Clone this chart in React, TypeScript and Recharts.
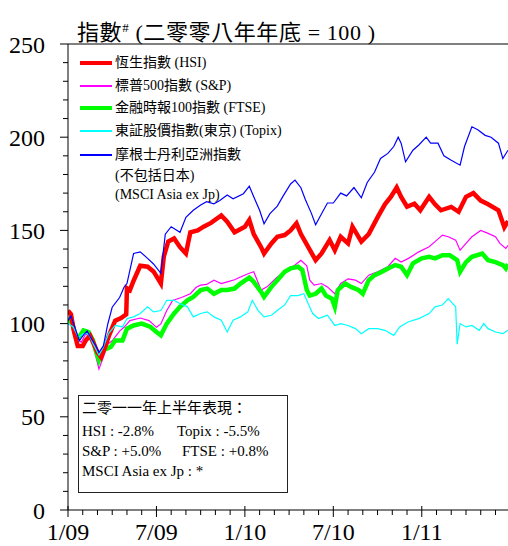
import { LineChart, Line, XAxis, YAxis, ReferenceLine } from "recharts";

// x = months since end of 2008, y = index (end-2008 = 100)
const hsi: [number, number][] = [
  [0, 107], [0.2, 105], [0.4, 96], [0.66, 88], [1.0, 88], [1.2, 91], [1.5, 93.5], [1.7, 90],
  [2.0, 84.6], [2.25, 82], [2.5, 87], [2.8, 94], [3.2, 101.6], [3.6, 103], [3.95, 105], [4.0, 119],
  [4.2, 118], [4.45, 123], [4.9, 131], [5.4, 130.5], [5.8, 128], [6.3, 121.5], [6.5, 136], [6.8, 144],
  [7.2, 145.7], [7.6, 141], [8.0, 137.6], [8.3, 149], [8.8, 150], [9.2, 152], [9.7, 154], [10.4, 158],
  [10.8, 154.7], [11.3, 149], [12.0, 152], [12.3, 155.6], [12.6, 148], [13.1, 141], [13.3, 137.6],
  [13.8, 143], [14.2, 146.6], [14.7, 147.5], [15.1, 150], [15.5, 153.8], [15.8, 148], [16.3, 141],
  [16.8, 134], [17.2, 137.6], [17.75, 144.8], [18.1, 139.4], [18.5, 146.6], [19.0, 143], [19.3, 152],
  [19.9, 144], [20.4, 148], [21.0, 157], [21.5, 164], [21.9, 168], [22.3, 173], [22.6, 168],
  [23.0, 162.7], [23.5, 164.3], [23.9, 160.8], [24.5, 168], [24.9, 164], [25.3, 160.8], [26.0, 162.6],
  [26.5, 160], [27.0, 168], [27.5, 170], [28.0, 166], [28.5, 164], [29.2, 160.8], [29.6, 151.7],
  [29.85, 155],
];

const sp500: [number, number][] = [
  [0, 101.6], [0.3, 99], [0.6, 92], [0.9, 90], [1.2, 94.4], [1.5, 93], [1.7, 89], [1.9, 82],
  [2.1, 75.7], [2.4, 82], [2.7, 89], [3.0, 90.8], [3.5, 96], [3.8, 98], [4.2, 101.6], [4.9, 103],
  [5.5, 101.6], [6.0, 98], [6.3, 99.8], [6.7, 107], [7.1, 112.4], [7.7, 114], [8.3, 116], [8.7, 119.5],
  [9.0, 120.6], [9.4, 121], [9.9, 123.3], [10.4, 121.5], [10.8, 122.4], [11.3, 123.5], [11.7, 125],
  [12.3, 127], [12.6, 127.8], [13.1, 118], [13.5, 119.7], [14.2, 125], [14.9, 128.7], [15.4, 131.4],
  [15.8, 134], [16.2, 131], [16.4, 123.3], [16.7, 120.6], [17.2, 121.5], [17.6, 119.7], [18.1, 116],
  [18.5, 121.5], [19.0, 124], [19.5, 123.3], [19.9, 121.5], [20.4, 126], [21.0, 127.8], [21.7, 130.5],
  [22.2, 135], [22.6, 133], [23.1, 135], [23.8, 138.5], [24.5, 141.2], [24.9, 144], [25.4, 147.5],
  [25.8, 146.6], [26.3, 144.8], [26.6, 139.4], [27.0, 143], [27.4, 146.6], [28.0, 150], [28.5, 148.4],
  [29.0, 146.6], [29.3, 143], [29.7, 140.3], [29.85, 142],
];

const ftse: [number, number][] = [
  [0, 103], [0.3, 100], [0.6, 91], [1.05, 96.4], [1.4, 95.5], [1.7, 91], [1.9, 85], [2.1, 80.3],
  [2.4, 85.7], [2.9, 87.5], [3.2, 91], [3.7, 91], [4.0, 97.3], [4.45, 99], [5.0, 100], [5.6, 98.2],
  [6.0, 95.5], [6.3, 93.7], [6.7, 100], [7.2, 105.4], [7.6, 109], [8.1, 112.5], [8.5, 114.3],
  [9.0, 118], [9.45, 118.8], [9.9, 116], [10.4, 118], [10.8, 118], [11.3, 118.8], [11.7, 121.5],
  [12.3, 124.7], [12.6, 122.4], [13.1, 117], [13.3, 114.3], [13.8, 119.7], [14.2, 123.3],
  [14.7, 127.8], [15.1, 129.6], [15.6, 130.5], [15.9, 128.7], [16.2, 118], [16.4, 115], [16.8, 116],
  [17.2, 118.8], [17.5, 115], [17.9, 113.4], [18.1, 109], [18.3, 118], [18.8, 121.5], [19.2, 119.7],
  [19.7, 118], [20.0, 116], [20.4, 123.3], [20.8, 126], [21.3, 127.8], [21.7, 129.6], [22.2, 131.4],
  [22.6, 130.5], [23.0, 126], [23.4, 132.3], [24.0, 135], [24.5, 135.8], [24.9, 135], [25.4, 136.7],
  [25.9, 136.7], [26.4, 134], [26.6, 127.8], [27.0, 133], [27.4, 135.8], [28.1, 137.6], [28.5, 134],
  [29.0, 133], [29.5, 131.4], [29.7, 129.6], [29.85, 132],
];

const topix: [number, number][] = [
  [0, 100], [0.35, 98.2], [0.7, 92.8], [1.05, 94.6], [1.4, 94.6], [1.7, 89.2], [2.1, 83], [2.4, 87.5],
  [2.75, 94.6], [3.2, 99], [3.7, 98.2], [4.0, 102.7], [4.45, 103.6], [4.9, 105.4], [5.4, 109],
  [5.8, 106.3], [6.3, 107], [6.7, 112.5], [7.2, 112.5], [7.6, 110.7], [8.1, 109], [8.5, 103.6],
  [9.0, 105.4], [9.45, 106.3], [9.9, 103.6], [10.4, 101.8], [10.8, 95.5], [11.2, 101.8], [11.7, 103.6],
  [12.2, 106.3], [12.5, 112.5], [12.9, 107], [13.3, 103.6], [13.8, 104.5], [14.2, 107], [14.7, 110],
  [15.1, 115], [15.6, 115], [16.0, 116], [16.3, 110.7], [16.6, 105.4], [17.0, 102.7], [17.3, 103.6],
  [17.6, 104.5], [18.1, 99], [18.5, 100], [19.0, 99], [19.5, 97.3], [19.9, 94.6], [20.4, 97.3],
  [21.0, 97.3], [21.5, 96.4], [22.1, 93.7], [22.5, 98.2], [23.1, 101], [23.8, 102.7], [24.5, 105.4],
  [24.9, 109], [25.4, 110], [25.8, 113.4], [26.1, 110.7], [26.3, 109], [26.4, 89], [26.6, 100],
  [27.0, 98.2], [27.4, 99], [27.9, 96.4], [28.2, 100], [28.5, 97.3], [29.0, 95.5], [29.5, 94.6],
  [29.85, 96.4],
];

const msci: [number, number][] = [
  [0, 101.6], [0.2, 104], [0.55, 96], [0.77, 90.8], [1.1, 94.4], [1.3, 96], [1.6, 91.7], [1.9, 88],
  [2.1, 84.6], [2.4, 88], [2.7, 99.8], [3.0, 108.8], [3.5, 114], [3.8, 119.5], [4.0, 121.5],
  [4.45, 137.6], [4.9, 138.5], [5.4, 135], [5.8, 132], [6.3, 127], [6.6, 148], [7.0, 152], [7.6, 149],
  [8.0, 157], [8.5, 160.8], [9.0, 163.6], [9.4, 165.4], [9.9, 164.3], [10.3, 166], [10.8, 169],
  [11.2, 167], [11.9, 169.7], [12.3, 173.7], [12.6, 168], [13.0, 160.8], [13.3, 153.6], [13.7, 159],
  [14.2, 163], [14.6, 168.5], [15.1, 174.9], [15.4, 177], [15.8, 172.9], [16.1, 166.6], [16.5, 159.4],
  [16.8, 153], [17.1, 157.5], [17.6, 164.7], [18.0, 164.7], [18.5, 170], [18.9, 168.5], [19.4, 173],
  [19.9, 167.5], [20.3, 175.7], [20.8, 181.3], [21.2, 188.6], [21.7, 191.3], [22.1, 195], [22.4, 200],
  [22.6, 196.8], [22.9, 186.8], [23.4, 193], [23.8, 195.8], [24.3, 200], [24.6, 196.8], [25.1, 196.8],
  [25.5, 190], [26.0, 187.6], [26.6, 185], [26.9, 195], [27.4, 205.6], [27.8, 204], [28.3, 201],
  [28.7, 200], [29.2, 196.8], [29.5, 188.6], [29.85, 193],
];

const xLabels = ["1/09", "7/09", "1/10", "7/10", "1/11"];
const monthTicks = Array.from({ length: 30 }, (_, i) => i);
const yTicks = Array.from({ length: 26 }, (_, i) => i * 10);

const FONT = "'Liberation Serif', 'Noto Sans CJK TC', serif";

const toPts = (arr: [number, number][]) => arr.map(([m, v]) => ({ m, v }));

const XTick = (props: any) => {
  const { x, y, payload } = props;
  const m = payload.value as number;
  const major = m % 6 === 0;
  return (
    <g>
      <line x1={x} x2={x} y1={major ? y - 4 : y} y2={y + (major ? 7 : 5)} stroke="#000" />
      {major && (
        <text x={x} y={y + 30} textAnchor="middle" fontSize={24} fontFamily={FONT} fill="#000">
          {xLabels[m / 6]}
        </text>
      )}
    </g>
  );
};

const YTick = (props: any) => {
  const { x, y, payload } = props;
  const v = payload.value as number;
  const major = v % 50 === 0;
  return (
    <g>
      <line x1={x - (major ? 8 : 5)} x2={x} y1={y} y2={y} stroke="#000" />
      {major && (
        <text x={x - 23} y={y} dy="0.36em" textAnchor="end" fontSize={24} fontFamily={FONT} fill="#000">
          {v}
        </text>
      )}
    </g>
  );
};

const legendRows = [
  { label: "恆生指數 (HSI)", color: "#ff0000", w: 4, y: 63 },
  { label: "標普500指數 (S&P)", color: "#ff00ff", w: 1.5, y: 86 },
  { label: "金融時報100指數 (FTSE)", color: "#00ff00", w: 4, y: 108 },
  { label: "東証股價指數(東京) (Topix)", color: "#00ffff", w: 1.5, y: 131 },
  { label: "摩根士丹利亞洲指數", color: "#0000ff", w: 1.5, y: 155 },
];

export default function App() {
  return (
    <div style={{ position: "absolute", left: 0, top: 0, width: 508, height: 546, background: "#fff", fontFamily: FONT, color: "#000" }}>
      <LineChart width={508} height={546} margin={{ top: 44, right: 0, bottom: 0, left: 0 }}>
        <XAxis
          type="number"
          dataKey="m"
          domain={[0, 29.85]}
          ticks={monthTicks}
          interval={0}
          tick={<XTick />}
          tickLine={false}
          tickSize={0}
          tickMargin={0}
          height={36}
          stroke="#000"
          allowDataOverflow
        />
        <YAxis
          type="number"
          domain={[0, 250]}
          ticks={yTicks}
          interval={0}
          tick={<YTick />}
          tickLine={false}
          tickSize={0}
          tickMargin={0}
          width={68}
          stroke="#000"
        />
        <ReferenceLine y={250} stroke="#000" />
        <Line data={toPts(sp500)} dataKey="v" stroke="#ff00ff" strokeWidth={1.2} dot={false} isAnimationActive={false} />
        <Line data={toPts(ftse)} dataKey="v" stroke="#00ff00" strokeWidth={4.5} dot={false} isAnimationActive={false} />
        <Line data={toPts(hsi)} dataKey="v" stroke="#ff0000" strokeWidth={4.5} dot={false} isAnimationActive={false} />
        <Line data={toPts(topix)} dataKey="v" stroke="#00ffff" strokeWidth={1.2} dot={false} isAnimationActive={false} />
        <Line data={toPts(msci)} dataKey="v" stroke="#0000ff" strokeWidth={1.2} dot={false} isAnimationActive={false} />
      </LineChart>

      <div style={{ position: "absolute", left: 77, top: 14, fontSize: 22, lineHeight: "28px", letterSpacing: 0.6, whiteSpace: "nowrap" }}>
        指數<sup style={{ fontSize: 13 }}>#</sup> (二零零八年年底 = 100 )
      </div>

      {legendRows.map((r) => (
        <div key={r.label} style={{ position: "absolute", left: 80, top: r.y - 10, height: 20, display: "flex", alignItems: "center", whiteSpace: "nowrap" }}>
          <div style={{ width: 32, height: r.w, background: r.color, marginRight: 3 }} />
          <span style={{ fontSize: 14, lineHeight: "20px" }}>{r.label}</span>
        </div>
      ))}
      <div style={{ position: "absolute", left: 115, top: 166, fontSize: 14, lineHeight: "20px", whiteSpace: "nowrap" }}>(不包括日本)</div>
      <div style={{ position: "absolute", left: 115, top: 185, fontSize: 14, lineHeight: "20px", whiteSpace: "nowrap" }}>(MSCI Asia ex Jp)</div>

      <div style={{ position: "absolute", left: 78, top: 395, width: 208, height: 96, border: "1px solid #222", background: "#fff", fontSize: 15 }}>
        <div style={{ position: "absolute", left: 3, top: 2, lineHeight: "20px", whiteSpace: "nowrap" }}>二零一一年上半年表現：</div>
        <div style={{ position: "absolute", left: 3, top: 25, lineHeight: "20px", whiteSpace: "nowrap" }}>HSI : -2.8%</div>
        <div style={{ position: "absolute", left: 98, top: 25, lineHeight: "20px", whiteSpace: "nowrap" }}>Topix : -5.5%</div>
        <div style={{ position: "absolute", left: 3, top: 45, lineHeight: "20px", whiteSpace: "nowrap" }}>S&amp;P : +5.0%</div>
        <div style={{ position: "absolute", left: 103, top: 45, lineHeight: "20px", whiteSpace: "nowrap" }}>FTSE : +0.8%</div>
        <div style={{ position: "absolute", left: 3, top: 65, lineHeight: "20px", whiteSpace: "nowrap" }}>MSCI Asia ex Jp : *</div>
      </div>
    </div>
  );
}
